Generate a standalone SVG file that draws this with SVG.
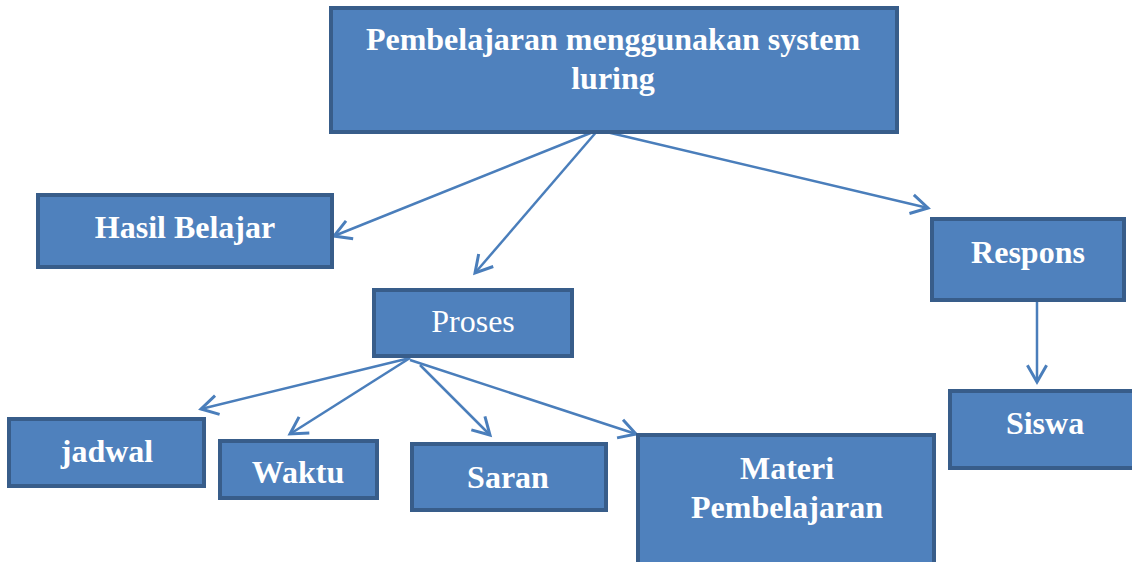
<svg xmlns="http://www.w3.org/2000/svg" width="1132" height="562" viewBox="0 0 1132 562">
<style>
.box{fill:#4F81BD;stroke:#385D8A;stroke-width:4}
.t{font-family:"Liberation Serif","Times New Roman",serif;font-weight:bold;font-size:32px;fill:#FFFFFF;text-anchor:middle}
.r{font-weight:normal}
.c{stroke:#4A7EBB;stroke-width:2.5;fill:none;marker-end:url(#a)}
</style>
<defs>
<marker id="a" markerUnits="userSpaceOnUse" markerWidth="24" markerHeight="24" viewBox="-16 -10 20 20" refX="0" refY="0" orient="auto">
<path d="M-14,-8 L0,0 L-14,8" fill="none" stroke="#4A7EBB" stroke-width="2.5"/>
</marker>
</defs>
<g id="connectors">
<line class="c" x1="598" y1="130" x2="334" y2="236"/>
<line class="c" x1="598" y1="130" x2="475" y2="273"/>
<line class="c" x1="598" y1="130" x2="928" y2="208"/>
<line class="c" x1="410" y1="358" x2="201" y2="409"/>
<line class="c" x1="410" y1="358" x2="290" y2="434"/>
<line class="c" x1="420" y1="365" x2="490" y2="435"/>
<line class="c" x1="410" y1="360" x2="636" y2="434"/>
<line class="c" x1="1037" y1="290" x2="1037" y2="382"/>
</g>
<g id="n-top"><rect class="box" x="331" y="8" width="566" height="124"/>
<text class="t" x="613" y="50">Pembelajaran menggunakan system</text>
<text class="t" x="613" y="89">luring</text></g>
<g id="n-hasil"><rect class="box" x="38" y="195" width="294" height="72"/>
<text class="t" x="185" y="238">Hasil Belajar</text></g>
<g id="n-proses"><rect class="box" x="374" y="290" width="198" height="66"/>
<text class="t r" x="473" y="332">Proses</text></g>
<g id="n-respons"><rect class="box" x="932" y="219" width="192" height="81"/>
<text class="t" x="1028" y="263">Respons</text></g>
<g id="n-siswa"><rect class="box" x="950" y="391" width="184" height="77"/>
<text class="t" x="1045" y="434">Siswa</text></g>
<g id="n-jadwal"><rect class="box" x="9" y="419" width="195" height="67"/>
<text class="t" x="107" y="462">jadwal</text></g>
<g id="n-waktu"><rect class="box" x="220" y="441" width="157" height="57"/>
<text class="t" x="298" y="483">Waktu</text></g>
<g id="n-saran"><rect class="box" x="412" y="444" width="194" height="66"/>
<text class="t" x="508" y="488">Saran</text></g>
<g id="n-materi"><rect class="box" x="638" y="435" width="296" height="130"/>
<text class="t" x="787" y="479">Materi</text>
<text class="t" x="787" y="518">Pembelajaran</text></g>
</svg>
